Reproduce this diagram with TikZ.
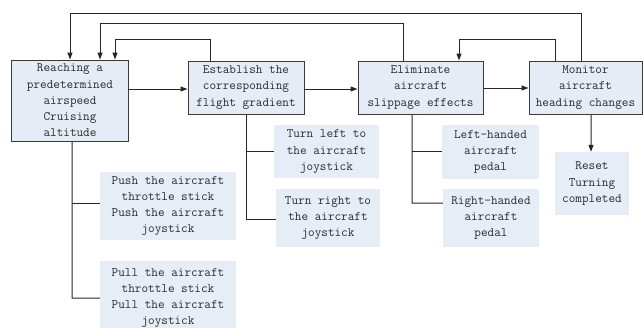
\documentclass[tikz,border=0pt]{standalone}
\usetikzlibrary{arrows.meta}
\definecolor{boxfill}{HTML}{E6ECF6}
\definecolor{lightfill}{HTML}{E7EDF7}
\definecolor{edge}{HTML}{3A3A3A}
\definecolor{txt}{HTML}{2A2A2A}
\tikzset{
  mainbox/.style={draw=edge, line width=1bp, fill=boxfill, inner sep=0pt, align=center,
    text=txt, font=\ttfamily\fontsize{12.9}{16.3}\selectfont},
  subbox/.style={fill=lightfill, inner sep=0pt, align=center,
    text=txt, font=\ttfamily\fontsize{12.9}{16.3}\selectfont},
  conn/.style={draw=black!85, line width=1bp},
  arr/.style={conn, -{Triangle[length=7bp,width=5bp]}},
}
\begin{document}
\begin{tikzpicture}[x=1bp,y=-1bp]
\useasboundingbox (0,0) rectangle (643,327);
\clip (0,0) rectangle (643,327);
% main boxes
\node[mainbox, minimum width=116bp, minimum height=81bp] (b1) at (70,100.5)
  {Reaching a\\predetermined\\airspeed\\Cruising\\altitude};
\node[mainbox, minimum width=116bp, minimum height=53bp] (b2) at (246,87.5)
  {Establish the\\corresponding\\flight gradient};
\node[mainbox, minimum width=125bp, minimum height=53bp] (b3) at (420.5,87.5)
  {Eliminate\\aircraft\\slippage effects};
\node[mainbox, minimum width=113bp, minimum height=53bp] (b4) at (585.5,87.5)
  {Monitor\\aircraft\\heading changes};
% sub boxes
\node[subbox, minimum width=136bp, minimum height=68bp] (push) at (168,206)
  {Push the aircraft\\throttle stick\\Push the aircraft\\joystick};
\node[subbox, minimum width=136bp, minimum height=74bp] (pull) at (168,298)
  {Pull the aircraft\\throttle stick\\Pull the aircraft\\joystick};
\node[subbox, minimum width=105bp, minimum height=53bp] (tl) at (326.5,151.5)
  {Turn left to\\the aircraft\\joystick};
\node[subbox, minimum width=104bp, minimum height=58bp] (tr) at (328,218)
  {Turn right to\\the aircraft\\joystick};
\node[subbox, minimum width=97bp, minimum height=54bp] (lh) at (490.5,152)
  {Left-handed\\aircraft\\pedal};
\node[subbox, minimum width=96bp, minimum height=58bp] (rh) at (491,218)
  {Right-handed\\aircraft\\pedal};
\node[subbox, minimum width=74bp, minimum height=63bp] (rs) at (592,183.5)
  {Reset\\Turning\\completed};
% forward arrows
\draw[arr] (b1.east |- 0,89) -- (b2.west |- 0,89);
\draw[arr] (b2.east |- 0,89) -- (b3.west |- 0,89);
\draw[arr] (b3.east |- 0,88) -- (b4.west |- 0,88);
\draw[arr] ([xshift=5.5bp]b4.south) -- (rs.north -| 591,0);
% feedback
\draw[arr] ([xshift=-4.5bp]b4.north) |- (70,13) -- (b1.north);
\draw[arr] ([xshift=-17.5bp]b3.north) |- (100,23) -- (b1.north -| 100,0);
\draw[arr] ([xshift=-36bp]b2.north) |- (115,39) -- (b1.north -| 115,0);
\draw[arr] ([xshift=-30.5bp]b4.north) |- (459,39) -- (b3.north -| 459,0);
% trees
\draw[conn] ([xshift=2bp]b1.south) -- (72,298) -- (pull.west |- 0,298);
\draw[conn] (72,203) -- (push.west |- 0,203);
\draw[conn] (b2.south) -- (246,219) -- (tr.west |- 0,219);
\draw[conn] (246,151) -- (tl.west |- 0,151);
\draw[conn] ([xshift=-8.5bp]b3.south) -- (412,203) -- (rh.west |- 0,203);
\draw[conn] (412,151) -- (lh.west |- 0,151);
\end{tikzpicture}
\end{document}
